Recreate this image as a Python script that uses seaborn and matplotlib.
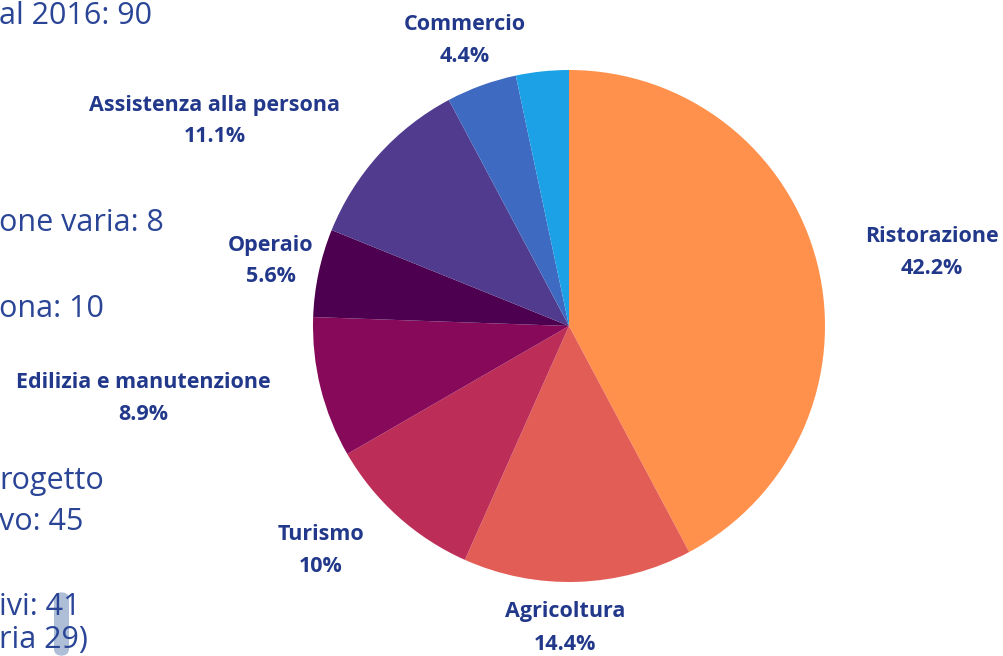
import matplotlib
matplotlib.use("Agg")
import matplotlib.pyplot as plt
import seaborn as sns
from matplotlib.patches import FancyBboxPatch

# ---- data ----
categories = ["Ristorazione", "Agricoltura", "Turismo", "Edilizia e manutenzione",
              "Operaio", "Assistenza alla persona", "Commercio", "Altro"]
counts = [38, 13, 9, 8, 5, 10, 4, 3]
pct_labels = ["42.2%", "14.4%", "10%", "8.9%", "5.6%", "11.1%", "4.4%", ""]
show_label = [True, True, True, True, True, True, True, False]
side_texts = ["al 2016: 90", "one varia: 8", "ona: 10", "rogetto", "vo: 45", "ivi: 41", "ria 29)"]

# ---- style ----
colors = ["#FF914D", "#E35D57", "#BC2D58", "#870A5A", "#4D004F", "#513B8E", "#3E6BC1", "#1CA0E6"]
label_color = "#22388A"
side_color = "#2A4596"
W, H = 1004, 656
label_pos = [(932, 237), (565, 612), (321, 535), (143, 383), (271, 245), (215, 105), (465, 24), None]
side_pos = [(-1, 16), (-1, 223), (-1, 309), (-1, 481), (-1, 522), (-1, 607), (-1, 640)]

sns.set_theme(style="white")
plt.rcParams["font.family"] = ["Open Sans", "DejaVu Sans"]
palette = sns.color_palette(colors)

fig = plt.figure(figsize=(W / 100, H / 100), dpi=100)
fig.patch.set_facecolor("white")

cx, cy, r = 569, 326, 256
ax = fig.add_axes([(cx - r) / W, (H - cy - r) / H, 2 * r / W, 2 * r / H])
ax.pie(counts, colors=palette, startangle=90, counterclock=False,
       wedgeprops=dict(linewidth=0), radius=1.0)
ax.set_xlim(-1, 1)
ax.set_ylim(-1, 1)
ax.set_aspect("equal")
ax.axis("off")

def fx(px):
    return px / W

def fy(py):
    return 1 - py / H

for cat, pct, show, pos in zip(categories, pct_labels, show_label, label_pos):
    if not show or pos is None:
        continue
    x, y = pos
    fig.text(fx(x), fy(y), cat, ha="center", va="center", fontsize=15.5,
             fontweight="bold", color=label_color)
    fig.text(fx(x), fy(y + 32), pct, ha="center", va="center", fontsize=15.5,
             fontweight="bold", color=label_color)

for t, (x, y) in zip(side_texts, side_pos):
    fig.text(fx(x), fy(y), t, ha="left", va="center", fontsize=22,
             color=side_color)

# selection highlight near the bottom-left text
hl = FancyBboxPatch((fx(54), fy(656)), fx(15), 64 / H,
                    boxstyle="round,pad=0,rounding_size=0.01",
                    transform=fig.transFigure, facecolor="#4A6FA5", alpha=0.45,
                    edgecolor="none")
fig.patches.append(hl)

fig.savefig("out.png", dpi=100, facecolor="white")
